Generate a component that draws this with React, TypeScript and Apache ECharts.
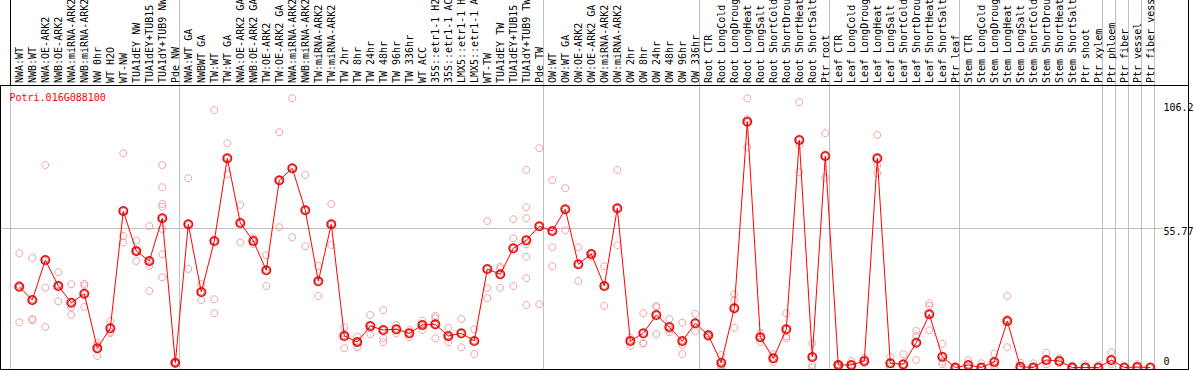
import React, { useEffect, useRef } from "react";
import * as echarts from "echarts";

const geneId = "Potri.016G088100";

const categories = [
  "NWA:WT", "NWB:WT", "NWA:OE-ARK2", "NWB:OE-ARK2", "NWA:miRNA-ARK2", "NWB:miRNA-ARK2",
  "NW 0hr", "WT H2O", "WT-NW", "TUA1dEY NW", "TUA1dEY+TUB15 NW", "TUA1dY+TUB9 NW", "Pde NW",
  "NWA:WT GA", "NWBWT GA", "TW:WT", "TW:WT GA", "NWA:OE-ARK2 GA", "NWB:OE-ARK2 GA",
  "TW:OE-ARK2", "TW:OE-ARK2 GA", "NWA:miRNA-ARK2 GA", "NWB:miRNA-ARK2 GA", "TW:miRNA-ARK2",
  "TW:miRNA-ARK2 GA", "TW 2hr", "TW 8hr", "TW 24hr", "TW 48hr", "TW 96hr", "TW 336hr",
  "WT ACC", "35S::etr1-1 H2O", "35S::etr1-1 ACC", "LMX5::etr1-1 H2O", "LMX5::etr1-1 ACC",
  "WT-TW", "TUA1dEY TW", "TUA1dEY+TUB15 TW", "TUA1dY+TUB9 TW", "Pde TW",
  "OW:WT", "OW:WT GA", "OW:OE-ARK2", "OW:OE-ARK2 GA", "OW:miRNA-ARK2", "OW:miRNA-ARK2 GA",
  "OW 2hr", "OW 8hr", "OW 24hr", "OW 48hr", "OW 96hr", "OW 336hr",
  "Root CTR", "Root LongCold", "Root LongDrought", "Root LongHeat", "Root LongSalt",
  "Root ShortCold", "Root ShortDrought", "Root ShortHeat", "Root ShortSalt", "Ptr root",
  "Leaf CTR", "Leaf LongCold", "Leaf LongDrought", "Leaf LongHeat", "Leaf LongSalt",
  "Leaf ShortCold", "Leaf ShortDrought", "Leaf ShortHeat", "Leaf ShortSalt", "Ptr leaf",
  "Stem CTR", "Stem LongCold", "Stem LongDrought", "Stem LongHeat", "Stem LongSalt",
  "Stem ShortCold", "Stem ShortDrought", "Stem ShortHeat", "Stem ShortSalt",
  "Ptr shoot", "Ptr xylem", "Ptr phloem", "Ptr fiber", "Ptr vessel", "Ptr fiber vessel",
];

const means = [
  32.3, 27, 43, 32.6, 25.9, 29.5, 7.7, 15.7, 62.6, 46.6, 42.6, 59.7, 1.9,
  57.3, 30.2, 50.6, 83.7, 57.8, 50.6, 38.9, 74.9, 79.7, 62.9, 34.5, 57.3,
  12.6, 10.2, 16.6, 15, 15.3, 13.7, 17, 17.3, 12.6, 13.7, 10.6,
  39.4, 37.3, 47.7, 50.9, 56.5,
  54.6, 63.3, 41.3, 45.4, 32.6, 63.7, 10.6, 13.7, 21, 16.2, 10.6, 17.7,
  12.9, 1.9, 23.7, 98.3, 12.1, 3.7, 15.3, 91, 4.2, 84.6,
  1, 1, 2.6, 83.7, 1.7, 1.3, 9.9, 21.3, 4.3, 0,
  1, 0, 2.2, 18.6, 0.3, 0, 3, 2.6, 0,
  0, 0, 3, 0, 0.2, 0,
];

const replicates = [
  [45.7, 33, 18.1], [43.8, 19, 19.3], [81, 31.9, 16.2], [38.1, 33.2, 26.5], [33.3, 24.1, 21],
  [33.5, 32.8, 24.2], [9.7, 8.7, 4.6], [18.6, 14.3, 13.7], [85.7, 52.6, 50], [50.7, 46.5, 42.6],
  [56.6, 40.6, 30.6], [81, 72.1, 65.4, 64.3, 55.4, 45.3, 36.1], [2.4, 1.6, 1.8],
  [75.7, 39.4], [33.4, 27], [103, 27.3, 21.7], [89.7, 77.3], [65, 50], [51.7, 49.3],
  [44.9, 32.6], [94.1, 56.1], [107.7, 52.1], [77, 48.5], [40.6, 28.6], [65.4, 49],
  [16.1, 13.7, 7.7], [12.3, 10.2, 8.1], [21, 15.5, 13.3], [22.9, 11.7, 10.1], [17, 13.7],
  [15, 12.1], [18.7, 15, 17.2], [20.7, 19.7, 11.7], [15.9, 12, 10.1], [19.4, 8.1], [15.3, 5.4],
  [58.6, 31.7, 27.7], [40.3, 39.7, 31.9], [59.3, 51.7, 32.6],
  [79, 64.1, 59.7, 49.3, 44.3, 35.7, 25], [87.7, 25.3],
  [74.9, 48.1, 40.5], [71.7, 54.9], [48.1, 34.6], [45.9, 44.3], [40.5, 24.6], [79, 48.9],
  [11.9, 8.7], [21.7, 9.7, 9.6], [24.6, 24.1, 13.4], [19.4, 15.1, 14.1], [17.9, 9, 5.4], [21.4, 14.5],
  [13.7, 12.3], [5, 0.8, 0], [29.3, 27, 15.9], [107.7, 99.4, 88.1], [13.7, 10.1], [5.3, 2.1],
  [21.7, 12.5, 11.7], [106.1, 89, 78.1], [9.7, 1, 0], [93.7, 75.9],
  [1.5, 1, 0.5], [2.6, 0.3], [3.9, 1.7], [93, 80.7, 77.7], [4.3, 0.3], [5.3, 0.3],
  [14.6, 12.6, 3], [25.7, 24.7, 14.9], [9.5, 2.3, 1.3], [0.3, 0],
  [3, 0], [1.7, 0], [5.5, 1.1, 0], [28.6, 19.4, 8.1], [1.9, 0], [1.7, 0], [5.9, 1.3],
  [3.7, 1.7], [0.8, 0],
  [1.3], [1], [6.1, 1.3], [0.2], [1.3], [0.3],
];

const yTickLabels = ["106.2", "55.77", "0"];
const yTickValues = [106.2, 55.77, 0];
const groupBoundaries = [0, 13, 41, 53, 63, 73, 84, 85, 86, 87, 88];

const MONO = "'DejaVu Sans Mono', monospace";

export default function App() {
  const ref = useRef<HTMLDivElement>(null);

  useEffect(() => {
    const el = ref.current;
    if (!el) return;
    const chart = echarts.init(el, null, { renderer: "svg" });

    const meanData = means.map((v, i) => [i, v]);
    const repData: number[][] = [];
    replicates.forEach((reps, i) => reps.forEach((v) => repData.push([i, v])));

    chart.setOption({
      animation: false,
      grid: {
        left: 6.3,
        right: 30.7,
        top: 85,
        bottom: 2.5,
        containLabel: false,
        outerBoundsMode: "none",
      },
      xAxis: {
        type: "value",
        position: "top",
        min: -1,
        max: 88,
        interval: 1,
        axisLine: { show: false },
        axisTick: { show: false },
        splitLine: { show: false },
        axisLabel: {
          rotate: 90,
          margin: 2,
          fontFamily: MONO,
          fontSize: 10,
          color: "#000",
          hideOverlap: false,
          showMinLabel: true,
          showMaxLabel: true,
          formatter: (v: number) => (categories[v] !== undefined ? categories[v] : ""),
        },
      },
      yAxis: {
        type: "value",
        min: 0,
        max: 113,
        show: false,
        splitLine: { show: false },
      },
      series: [
        {
          type: "scatter",
          data: repData,
          symbol: "circle",
          symbolSize: 7,
          clip: false,
          z: 2,
          itemStyle: { color: "rgba(0,0,0,0)", borderColor: "#ee8c8c", borderWidth: 1 },
        },
        {
          type: "line",
          data: meanData,
          symbol: "circle",
          symbolSize: 8.5,
          showAllSymbol: true,
          clip: false,
          z: 3,
          lineStyle: { color: "#ff0000", width: 1 },
          itemStyle: { color: "rgba(0,0,0,0)", borderColor: "#ff0000", borderWidth: 1.5 },
        },
        {
          type: "scatter",
          data: meanData,
          symbol: "circle",
          symbolSize: 6,
          clip: false,
          silent: true,
          z: 4,
          itemStyle: { color: "rgba(0,0,0,0)", borderColor: "rgba(60,0,0,0.55)", borderWidth: 1 },
        },
      ],
    });

    const px = (v: number) => chart.convertToPixel({ xAxisIndex: 0 }, v) as number;
    const py = (v: number) => chart.convertToPixel({ yAxisIndex: 0 }, v) as number;
    const crisp = (v: number) => Math.floor(v) + 0.5;

    const graphics: any[] = [];
    groupBoundaries.forEach((b) => {
      const x = crisp(px(b - 0.692));
      graphics.push({
        type: "line",
        z: 0,
        silent: true,
        shape: { x1: x, y1: 0, x2: x, y2: 369 },
        style: { stroke: "#c0c0c0", lineWidth: 1 },
      });
    });
    const yMid = crisp(py(55.77));
    graphics.push({
      type: "line",
      z: 0,
      silent: true,
      shape: { x1: 0, y1: yMid, x2: 1163, y2: yMid },
      style: { stroke: "#c0c0c0", lineWidth: 1 },
    });
    const frame = [
      [0.5, 85, 0.5, 370],
      [1188.5, 0, 1188.5, 370],
      [0, 85.5, 1189, 85.5],
      [0, 369.5, 1189, 369.5],
      [10.5, 0, 10.5, 85],
    ];
    frame.forEach(([x1, y1, x2, y2]) =>
      graphics.push({
        type: "line",
        z: 10,
        silent: true,
        shape: { x1, y1, x2, y2 },
        style: { stroke: "#000", lineWidth: 1 },
      })
    );
    const labelOffsets = [5.5, 3.5, -6];
    yTickValues.forEach((v, k) => {
      graphics.push({
        type: "text",
        z: 11,
        x: 1163.5,
        y: py(v) + labelOffsets[k],
        style: {
          text: yTickLabels[k],
          fill: "#000",
          font: `10px ${MONO}`,
          textAlign: "left",
          textVerticalAlign: "middle",
        },
      });
    });
    graphics.push({
      type: "text",
      z: 11,
      x: 9.5,
      y: 97.5,
      style: {
        text: geneId,
        fill: "#ff0000",
        font: `10px ${MONO}`,
        textAlign: "left",
        textVerticalAlign: "middle",
      },
    });
    chart.setOption({ graphic: graphics });

    return () => chart.dispose();
  }, []);

  return (
    <div
      ref={ref}
      style={{ position: "fixed", left: 0, top: 0, width: 1194, height: 370, background: "#fff" }}
    />
  );
}
